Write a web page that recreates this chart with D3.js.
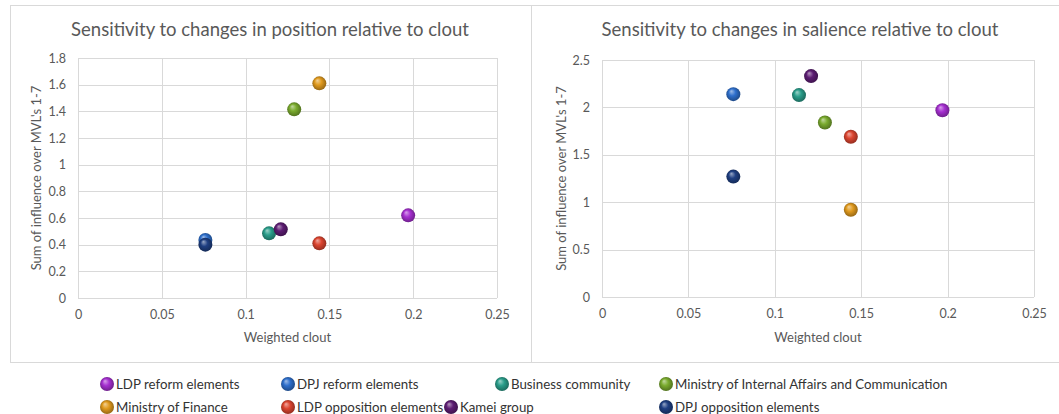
<!DOCTYPE html>
<html>
<head>
<meta charset="utf-8">
<script src="https://cdn.jsdelivr.net/npm/d3@7"></script>
<style>
  body { margin: 0; background: #fff; }
  svg { display: block; font-family: Lato, "Open Sans", sans-serif; }
</style>
</head>
<body>
<script>
// data
const groups = ["LDP reform elements", "DPJ reform elements", "Business community",
  "Ministry of Internal Affairs and Communication", "Ministry of Finance",
  "LDP opposition elements", "Kamei group", "DPJ opposition elements"];
const clout = [0.197, 0.076, 0.114, 0.129, 0.144, 0.144, 0.121, 0.076];
const positionSens = [0.62, 0.435, 0.485, 1.415, 1.61, 0.41, 0.515, 0.40];
const salienceSens = [1.97, 2.14, 2.13, 1.84, 0.92, 1.69, 2.33, 1.27];

const xTicks = [0, 0.05, 0.1, 0.15, 0.2, 0.25];
const posTicks = [0, 0.2, 0.4, 0.6, 0.8, 1, 1.2, 1.4, 1.6, 1.8];
const salTicks = [0, 0.5, 1, 1.5, 2, 2.5];

const colors = ["#a52fd0", "#2e6fcc", "#2a9d8a", "#7aab2e", "#e09a1e", "#dc4530", "#5d1d73", "#1f3f82"];

const W = 1059, H = 414;
const grid = "#d9d9d9", txt = "#595959";

const svg = d3.select("body").append("svg")
  .attr("width", W).attr("height", H);

// sphere-ish gradients
const defs = svg.append("defs");
colors.forEach((c, i) => {
  const g = defs.append("radialGradient")
    .attr("id", "ball" + i)
    .attr("cx", "50%").attr("cy", "50%").attr("r", "55%")
    .attr("fx", "35%").attr("fy", "28%");
  g.append("stop").attr("offset", "0%").attr("stop-color", d3.interpolateRgb(c, "#fff")(0.55));
  g.append("stop").attr("offset", "45%").attr("stop-color", c);
  g.append("stop").attr("offset", "100%").attr("stop-color", d3.color(c).darker(1.3));
});

const drawPanel = (opts) => {
  const g = svg.append("g");

  g.append("rect")
    .attr("x", opts.box[0] + 0.5).attr("y", opts.box[1] + 0.5)
    .attr("width", opts.box[2]).attr("height", opts.box[3])
    .attr("fill", "none").attr("stroke", grid);

  const x = d3.scaleLinear().domain([0, 0.25]).range([opts.left, opts.right]);
  const y = d3.scaleLinear().domain([0, opts.yMax]).range([opts.bottom, opts.top]);

  // gridlines
  g.append("g").selectAll("line.h").data(opts.yTicks).enter().append("line")
    .attr("x1", opts.left).attr("x2", opts.right)
    .attr("y1", d => Math.round(y(d)) + 0.5).attr("y2", d => Math.round(y(d)) + 0.5)
    .attr("stroke", grid);
  g.append("g").selectAll("line.v").data(xTicks).enter().append("line")
    .attr("y1", opts.top).attr("y2", opts.bottom)
    .attr("x1", d => Math.round(x(d)) + 0.5).attr("x2", d => Math.round(x(d)) + 0.5)
    .attr("stroke", grid);

  const xAxis = d3.axisBottom(x).tickValues(xTicks).tickSize(0).tickPadding(12).tickFormat(d => String(d));
  const yAxis = d3.axisLeft(y).tickValues(opts.yTicks).tickSize(0).tickPadding(12).tickFormat(d => String(d));

  const ax = g.append("g").attr("transform", `translate(0,${opts.bottom})`).call(xAxis);
  const ay = g.append("g").attr("transform", `translate(${opts.left},0)`).call(yAxis);
  [ax, ay].forEach(a => {
    a.select(".domain").remove();
    a.selectAll("text").attr("fill", txt).style("font-size", "12.5px").style("font-family", "Lato, sans-serif");
  });

  g.append("text")
    .attr("x", opts.titleX).attr("y", 36)
    .attr("text-anchor", "middle")
    .attr("fill", txt).style("font-size", "18.5px")
    .text(opts.title);

  g.append("text")
    .attr("x", (opts.left + opts.right) / 2).attr("y", 342)
    .attr("text-anchor", "middle")
    .attr("fill", txt).style("font-size", "13px")
    .text("Weighted clout");

  g.append("text")
    .attr("transform", `translate(${opts.yTitleX},${(opts.top + opts.bottom) / 2}) rotate(-90)`)
    .attr("text-anchor", "middle")
    .attr("fill", txt).style("font-size", "13px")
    .text("Sum of influence over MVL's 1-7");

  g.append("g").selectAll("circle").data(groups).enter().append("circle")
    .attr("cx", (d, i) => x(clout[i]))
    .attr("cy", (d, i) => y(opts.values[i]))
    .attr("r", 7)
    .attr("fill", (d, i) => `url(#ball${i})`);
};

drawPanel({
  box: [10, 5, 521, 357],
  left: 78, right: 497, top: 58, bottom: 298,
  yMax: 1.8, yTicks: posTicks, values: positionSens,
  title: "Sensitivity to changes in position relative to clout",
  titleX: 270, yTitleX: 41
});

drawPanel({
  box: [531, 5, 540, 357],
  left: 602, right: 1034, top: 60, bottom: 297,
  yMax: 2.5, yTicks: salTicks, values: salienceSens,
  title: "Sensitivity to changes in salience relative to clout",
  titleX: 800, yTitleX: 566
});

// legend
const legendX = [107, 288, 502, 666, 107, 288, 451, 666];
const legendY = [384, 384, 384, 384, 407, 407, 407, 407];

const leg = svg.append("g").selectAll("g").data(groups).enter().append("g")
  .attr("transform", (d, i) => `translate(${legendX[i]},${legendY[i]})`);
leg.append("circle").attr("r", 7).attr("fill", (d, i) => `url(#ball${i})`);
leg.append("text")
  .attr("transform", "translate(9,0) scale(0.95,1)")
  .attr("dy", "0.35em")
  .attr("fill", "#333").style("font-size", "14px")
  .text(d => d);
</script>
</body>
</html>
